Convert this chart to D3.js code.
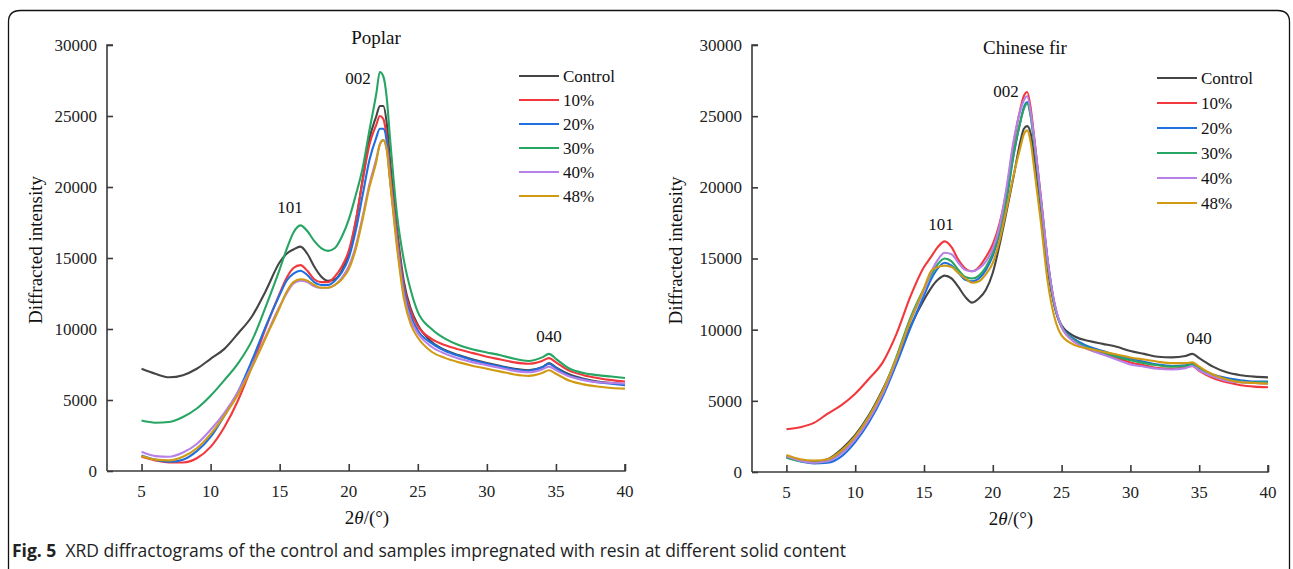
<!DOCTYPE html>
<html>
<head>
<meta charset="utf-8">
<script src="https://cdn.jsdelivr.net/npm/d3@7"></script>
<style>
  body { margin: 0; background: #fff; }
  svg { display: block; }
</style>
</head>
<body>
<svg width="1293" height="569"></svg>
<script>
const width = 1293;
const height = 569;

// 2theta sampling points (degrees)
const theta = [5, 6, 7, 8, 9, 10, 11, 12, 13, 14, 15, 15.5, 16, 16.5, 17, 17.5, 18, 18.5, 19, 19.5,
  20, 20.5, 21, 21.5, 22, 22.25, 22.5, 22.75, 23, 23.5, 24, 24.5, 25, 26, 27, 28, 29, 30, 31, 32, 33, 34, 34.5, 35, 36, 37, 38, 39, 40];

const seriesNames = ["Control", "10%", "20%", "30%", "40%", "48%"];
const seriesColors = ["#454545", "#f2383c", "#1f6fe0", "#27a563", "#b680e8", "#d09a12"];

// Poplar
const poplarControl = [7200, 6850, 6600, 6750, 7200, 7900, 8600, 9700, 10900, 12700, 14700, 15300, 15600, 15800, 15300, 14400, 13700, 13400, 13500, 14100,
  15300, 17500, 20500, 23400, 25000, 25700, 25700, 24500, 21800, 17000, 13300, 11400, 10300, 9100, 8500, 8150, 7850, 7600, 7400, 7200, 7100, 7300, 7600, 7300, 6800, 6500, 6300, 6200, 6100];
const poplar10 = [1000, 750, 600, 600, 900, 1700, 3100, 5000, 7400, 10100, 12500, 13600, 14300, 14500, 14100, 13500, 13300, 13300, 13700, 14400,
  15500, 17600, 20400, 23000, 24400, 25000, 24800, 23500, 21000, 16600, 13000, 11200, 10200, 9300, 8850, 8550, 8300, 8050, 7850, 7650, 7550, 7750, 7950, 7650, 7050, 6750, 6550, 6400, 6300];
const poplar20 = [1100, 800, 650, 800, 1400, 2400, 3900, 5600, 7800, 10200, 12400, 13400, 13900, 14100, 13800, 13300, 13100, 13100, 13400, 14000,
  15000, 16900, 19400, 21900, 23500, 24100, 24100, 23200, 20500, 16200, 12700, 10900, 9900, 9000, 8450, 8100, 7800, 7550, 7350, 7150, 7050, 7300, 7550, 7250, 6700, 6450, 6250, 6150, 6050];
const poplar30 = [3550, 3400, 3450, 3800, 4400, 5300, 6400, 7600, 9200, 11600, 14200, 15600, 16800, 17300, 16900, 16200, 15700, 15500, 15700, 16500,
  17700, 19400, 21300, 24000, 26600, 28100, 27800, 26300, 23300, 18000, 14800, 12700, 11200, 10000, 9300, 8850, 8550, 8350, 8150, 7900, 7750, 8000, 8250, 7900, 7200, 6900, 6750, 6650, 6550];
const poplar40 = [1350, 1050, 1000, 1300, 1900, 2900, 4100, 5600, 7400, 9500, 11600, 12500, 13200, 13400, 13300, 13000, 12900, 12900, 13100, 13600,
  14400, 15800, 17900, 20200, 22000, 23000, 23300, 22700, 20500, 16000, 12400, 10600, 9700, 8750, 8250, 7900, 7650, 7450, 7250, 7050, 6950, 7150, 7350, 7100, 6650, 6400, 6250, 6200, 6150];
const poplar48 = [1050, 800, 750, 1000, 1600, 2600, 3900, 5400, 7300, 9400, 11500, 12600, 13300, 13500, 13400, 13100, 12900, 12900, 13100, 13500,
  14200, 15600, 17700, 20000, 21800, 23000, 23300, 22600, 20300, 15700, 12100, 10300, 9400, 8400, 7950, 7650, 7400, 7200, 7000, 6800, 6700, 6900, 7100, 6850, 6350, 6100, 5950, 5850, 5800];

// Chinese fir
const firControl = [1100, 800, 700, 900, 1600, 2600, 4000, 5800, 7900, 10200, 12100, 12900, 13500, 13800, 13600, 13000, 12300, 11900, 12200, 12800,
  14000, 16000, 18300, 20700, 23200, 24100, 24300, 23800, 22200, 18400, 14200, 11600, 10300, 9500, 9200, 9000, 8800, 8500, 8300, 8100, 8050, 8150, 8300, 8000, 7400, 7000, 6800, 6700, 6650];
const fir10 = [3000, 3150, 3450, 4100, 4700, 5500, 6550, 7700, 9700, 12300, 14400, 15100, 15800, 16200, 15800, 14900, 14300, 14100, 14400, 15100,
  16000, 17500, 19800, 23000, 25500, 26400, 26700, 25600, 23600, 19300, 14800, 11700, 10200, 9100, 8600, 8300, 8000, 7700, 7500, 7300, 7250, 7350, 7450, 7100, 6600, 6300, 6100, 6000, 5950];
const fir20 = [1050, 750, 600, 650, 1100, 2100, 3500, 5300, 7600, 10100, 12400, 13500, 14300, 14700, 14500, 14000, 13500, 13400, 13600, 14200,
  15200, 16800, 19100, 22200, 24600, 25600, 26000, 25100, 23300, 19000, 14700, 11700, 10200, 9300, 8800, 8500, 8200, 7950, 7750, 7550, 7450, 7500, 7600, 7300, 6850, 6600, 6450, 6350, 6350];
const fir30 = [1000, 750, 650, 750, 1400, 2500, 3900, 5700, 8100, 10800, 12900, 13800, 14600, 15000, 14800, 14200, 13700, 13600, 13800, 14400,
  15400, 17000, 19300, 22300, 24600, 25500, 25900, 25000, 23200, 19000, 14700, 11700, 10200, 9200, 8700, 8400, 8100, 7850, 7650, 7500, 7400, 7450, 7550, 7250, 6800, 6500, 6350, 6300, 6300];
const fir40 = [1100, 800, 650, 750, 1300, 2300, 3700, 5500, 7900, 10600, 12800, 14000, 14900, 15400, 15300, 14700, 14200, 14100, 14300, 14800,
  15700, 17300, 20000, 23200, 25400, 26100, 26400, 25300, 23500, 19200, 14800, 11800, 10200, 9100, 8600, 8250, 7900, 7550, 7400, 7250, 7200, 7300, 7450, 7150, 6700, 6400, 6300, 6250, 6200];
const fir48 = [1200, 900, 800, 900, 1500, 2500, 3900, 5700, 8000, 10600, 12900, 14100, 14400, 14500, 14400, 14000, 13600, 13300, 13400, 13900,
  14700, 16300, 18500, 20800, 22800, 23700, 24000, 23200, 21400, 17500, 13300, 10800, 9600, 8900, 8650, 8450, 8250, 8050, 7900, 7750, 7650, 7650, 7700, 7400, 6850, 6500, 6300, 6250, 6200];

const yTicks = [0, 5000, 10000, 15000, 20000, 25000, 30000];
const xTicks = [5, 10, 15, 20, 25, 30, 35, 40];

const panels = [
  {
    title: "Poplar", titleX: 376, titleY: 37,
    left: 107, right: 625, top: 45, bottom: 471, yTitleX: 42,
    series: [poplarControl, poplar10, poplar20, poplar30, poplar40, poplar48],
    legendX: 519, legendY: 76, legendStep: 24,
    peaks: [["101", 290, 207], ["002", 358, 78], ["040", 549, 336]]
  },
  {
    title: "Chinese fir", titleX: 1025, titleY: 47,
    left: 752, right: 1268, top: 45, bottom: 472, yTitleX: 682,
    series: [firControl, fir10, fir20, fir30, fir40, fir48],
    legendX: 1157, legendY: 78, legendStep: 25,
    peaks: [["101", 941, 224], ["002", 1006, 91], ["040", 1199, 338]]
  }
];

const svg = d3.select("svg");
const serif = "'Liberation Serif', 'Times New Roman', serif";
const axisColor = "#3a3a3a";

svg.append("rect").attr("width", width).attr("height", height).attr("fill", "#fff");

// rounded frame, open at the bottom
svg.append("path")
  .attr("d", `M8.5,${height} V22 Q8.5,10.5 20.5,10.5 H1277.5 Q1289.5,10.5 1289.5,22 V${height}`)
  .attr("fill", "none")
  .attr("stroke", "#111")
  .attr("stroke-width", 1.3);

function drawPanel(p) {
  const x = d3.scaleLinear().domain([2.5, 40]).range([p.left, p.right]);
  const y = d3.scaleLinear().domain([0, 30000]).range([p.bottom, p.top]);
  const g = svg.append("g");

  // lines
  const line = d3.line()
    .x((d, i) => x(theta[i]))
    .y(d => y(d))
    .curve(d3.curveMonotoneX);

  p.series.forEach((s, k) => {
    g.append("path")
      .attr("d", line(s))
      .attr("fill", "none")
      .attr("stroke", seriesColors[k])
      .attr("stroke-width", 2.1)
      .attr("stroke-linejoin", "round");
  });

  // y axis, ticks pointing inward
  const yAxis = g.append("g")
    .attr("transform", `translate(${p.left},0)`)
    .call(d3.axisRight(y).tickValues(yTicks).tickSize(6).tickFormat(""));
  yAxis.select(".domain").attr("d", `M6,${p.top}H0V${p.bottom}`);
  yAxis.selectAll("path, line").attr("stroke", axisColor).attr("stroke-width", 1.6);

  g.selectAll("text.ytick")
    .data(yTicks)
    .enter()
    .append("text")
    .attr("class", "ytick")
    .attr("x", p.left - 10)
    .attr("y", d => y(d))
    .attr("dy", "0.35em")
    .attr("text-anchor", "end")
    .style("font-family", serif)
    .style("font-size", "17px")
    .attr("fill", "#222")
    .text(d => d);

  // x axis, ticks pointing up
  const xAxis = g.append("g")
    .attr("transform", `translate(0,${p.bottom})`)
    .call(d3.axisTop(x).tickValues(xTicks).tickSize(7).tickFormat(""));
  xAxis.select(".domain").attr("d", `M${p.left},0H${p.right}V-7`);
  xAxis.selectAll("path, line").attr("stroke", axisColor).attr("stroke-width", 1.6);

  g.selectAll("text.xtick")
    .data(xTicks)
    .enter()
    .append("text")
    .attr("class", "xtick")
    .attr("x", d => x(d))
    .attr("y", p.bottom + 26)
    .attr("text-anchor", "middle")
    .style("font-family", serif)
    .style("font-size", "17px")
    .attr("fill", "#222")
    .text(d => d);

  // axis titles
  const xt = g.append("text")
    .attr("x", (p.left + p.right) / 2 + 1)
    .attr("y", p.bottom + 53)
    .attr("text-anchor", "middle")
    .style("font-family", serif)
    .style("font-size", "19px")
    .attr("fill", "#111");
  xt.append("tspan").text("2");
  xt.append("tspan").style("font-style", "italic").text("θ");
  xt.append("tspan").text("/(°)");

  g.append("text")
    .attr("transform", `translate(${p.yTitleX},${(p.top + p.bottom) / 2 - 8}) rotate(-90)`)
    .attr("text-anchor", "middle")
    .style("font-family", serif)
    .style("font-size", "19px")
    .attr("fill", "#111")
    .text("Diffracted intensity");

  // title
  g.append("text")
    .attr("x", p.titleX)
    .attr("y", p.titleY)
    .attr("dy", "0.35em")
    .attr("text-anchor", "middle")
    .style("font-family", serif)
    .style("font-size", "19px")
    .attr("fill", "#111")
    .text(p.title);

  // peak labels
  p.peaks.forEach(pk => {
    g.append("text")
      .attr("x", pk[1])
      .attr("y", pk[2])
      .attr("dy", "0.35em")
      .attr("text-anchor", "middle")
      .style("font-family", serif)
      .style("font-size", "17px")
      .attr("fill", "#111")
      .text(pk[0]);
  });

  // legend
  const legend = g.append("g");
  seriesNames.forEach((name, k) => {
    const ly = p.legendY + k * p.legendStep;
    legend.append("line")
      .attr("x1", p.legendX).attr("x2", p.legendX + 40)
      .attr("y1", ly).attr("y2", ly)
      .attr("stroke", seriesColors[k])
      .attr("stroke-width", 2.2);
    legend.append("text")
      .attr("x", p.legendX + 44)
      .attr("y", ly)
      .attr("dy", "0.35em")
      .style("font-family", serif)
      .style("font-size", "17px")
      .attr("fill", "#111")
      .text(name);
  });
}

panels.forEach(drawPanel);

// caption
const cap = svg.append("text")
  .attr("x", 12)
  .attr("y", 557)
  .style("font-family", "'Open Sans', 'Noto Sans', sans-serif")
  .style("font-size", "17.5px")
  .attr("fill", "#222");
cap.append("tspan").style("font-weight", 700).text("Fig. 5");
cap.append("tspan").attr("dx", 9).text("XRD diffractograms of the control and samples impregnated with resin at different solid content");
</script>
</body>
</html>
